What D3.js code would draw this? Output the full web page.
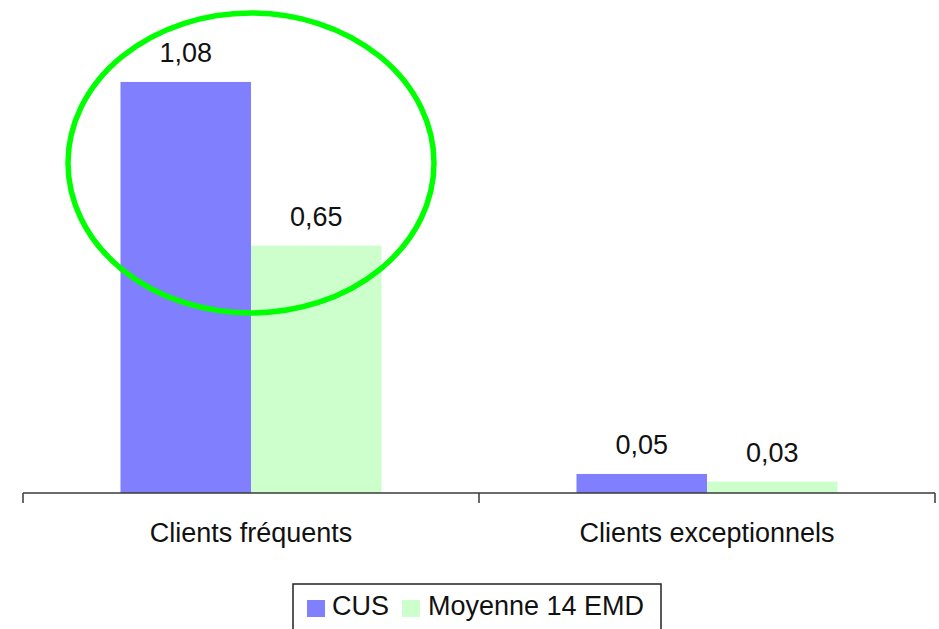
<!DOCTYPE html>
<html>
<head>
<meta charset="utf-8">
<script src="https://cdn.jsdelivr.net/npm/d3@7"></script>
<style>
  body { margin: 0; background: #fff; }
  svg { display: block; font-family: "Liberation Sans", Arial, sans-serif; }
</style>
</head>
<body>
<svg id="chart" width="939" height="629"></svg>
<script>
var categories = ["Clients fréquents", "Clients exceptionnels"];
var series = ["CUS", "Moyenne 14 EMD"];
var cus_values = [1.08, 0.05];
var emd_values = [0.65, 0.03];
var colors = ["#8080ff", "#ccffcc"];

var svg = d3.select("#chart");
var x_left = 23, x_right = 935, y_base = 493;

var x0 = d3.scaleBand().domain(categories).range([x_left, x_right]).padding(0);
var x1 = d3.scaleBand().domain(series).range([0, x0.bandwidth()]).paddingInner(0).paddingOuter(0.747);
var y_scale = d3.scaleLinear().domain([0, 1.2]).range([y_base, y_base - 1.2 * 380.6]);

var fmt = function(v) { return d3.format(".2f")(v).replace(".", ","); };

var rows = categories.map(function(c, i) {
    return { cat: c, vals: [
        { s: series[0], v: cus_values[i], col: colors[0] },
        { s: series[1], v: emd_values[i], col: colors[1] }
    ]};
});

var groups = svg.selectAll("g.group")
    .data(rows)
    .enter()
    .append("g")
    .attr("class", "group")
    .attr("transform", function(d) { return "translate(" + x0(d.cat) + ",0)"; });

groups.selectAll("rect")
    .data(function(d) { return d.vals; })
    .enter()
    .append("rect")
    .attr("x", function(d) { return x1(d.s); })
    .attr("y", function(d) { return y_scale(d.v); })
    .attr("width", x1.bandwidth())
    .attr("height", function(d) { return y_base - y_scale(d.v); })
    .style("fill", function(d) { return d.col; });

groups.selectAll("text.val")
    .data(function(d) { return d.vals; })
    .enter()
    .append("text")
    .attr("class", "val")
    .attr("x", function(d) { return x1(d.s) + x1.bandwidth() / 2; })
    .attr("y", function(d) { return y_scale(d.v) - 20; })
    .attr("text-anchor", "middle")
    .style("font-size", "27px")
    .style("fill", "#111")
    .text(function(d) { return fmt(d.v); });

// axis line with ticks at category boundaries
svg.append("line")
    .attr("x1", x_left).attr("x2", x_right)
    .attr("y1", y_base).attr("y2", y_base)
    .style("stroke", "#3a3a3a").style("stroke-width", 1.5);

var boundaries = categories.map(function(c) { return x0(c); }).concat([x_right]);
svg.selectAll("line.tick")
    .data(boundaries)
    .enter()
    .append("line")
    .attr("class", "tick")
    .attr("x1", function(d) { return d; }).attr("x2", function(d) { return d; })
    .attr("y1", y_base).attr("y2", y_base + 10)
    .style("stroke", "#3a3a3a").style("stroke-width", 1.5);

svg.selectAll("text.cat")
    .data(categories)
    .enter()
    .append("text")
    .attr("class", "cat")
    .attr("x", function(d) { return x0(d) + x0.bandwidth() / 2; })
    .attr("y", 542)
    .attr("text-anchor", "middle")
    .style("font-size", "27px")
    .style("fill", "#111")
    .text(function(d) { return d; });

// highlight ellipse
svg.append("ellipse")
    .attr("cx", 251).attr("cy", 163)
    .attr("rx", 183).attr("ry", 150)
    .style("fill", "none")
    .style("stroke", "#00ff00")
    .style("stroke-width", 5.5);

// legend
var legend = svg.append("g");
legend.append("rect")
    .attr("x", 293).attr("y", 584)
    .attr("width", 368).attr("height", 60)
    .style("fill", "#fff")
    .style("stroke", "#222").style("stroke-width", 1.5);

var legend_pos = [{ sx: 307, tx: 332 }, { sx: 402, tx: 428 }];
series.forEach(function(s, i) {
    legend.append("rect")
        .attr("x", legend_pos[i].sx).attr("y", 600)
        .attr("width", 18).attr("height", 17)
        .style("fill", colors[i]);
    legend.append("text")
        .attr("x", legend_pos[i].tx).attr("y", 615)
        .style("font-size", "27px")
        .style("fill", "#111")
        .text(s);
});
</script>
</body>
</html>
